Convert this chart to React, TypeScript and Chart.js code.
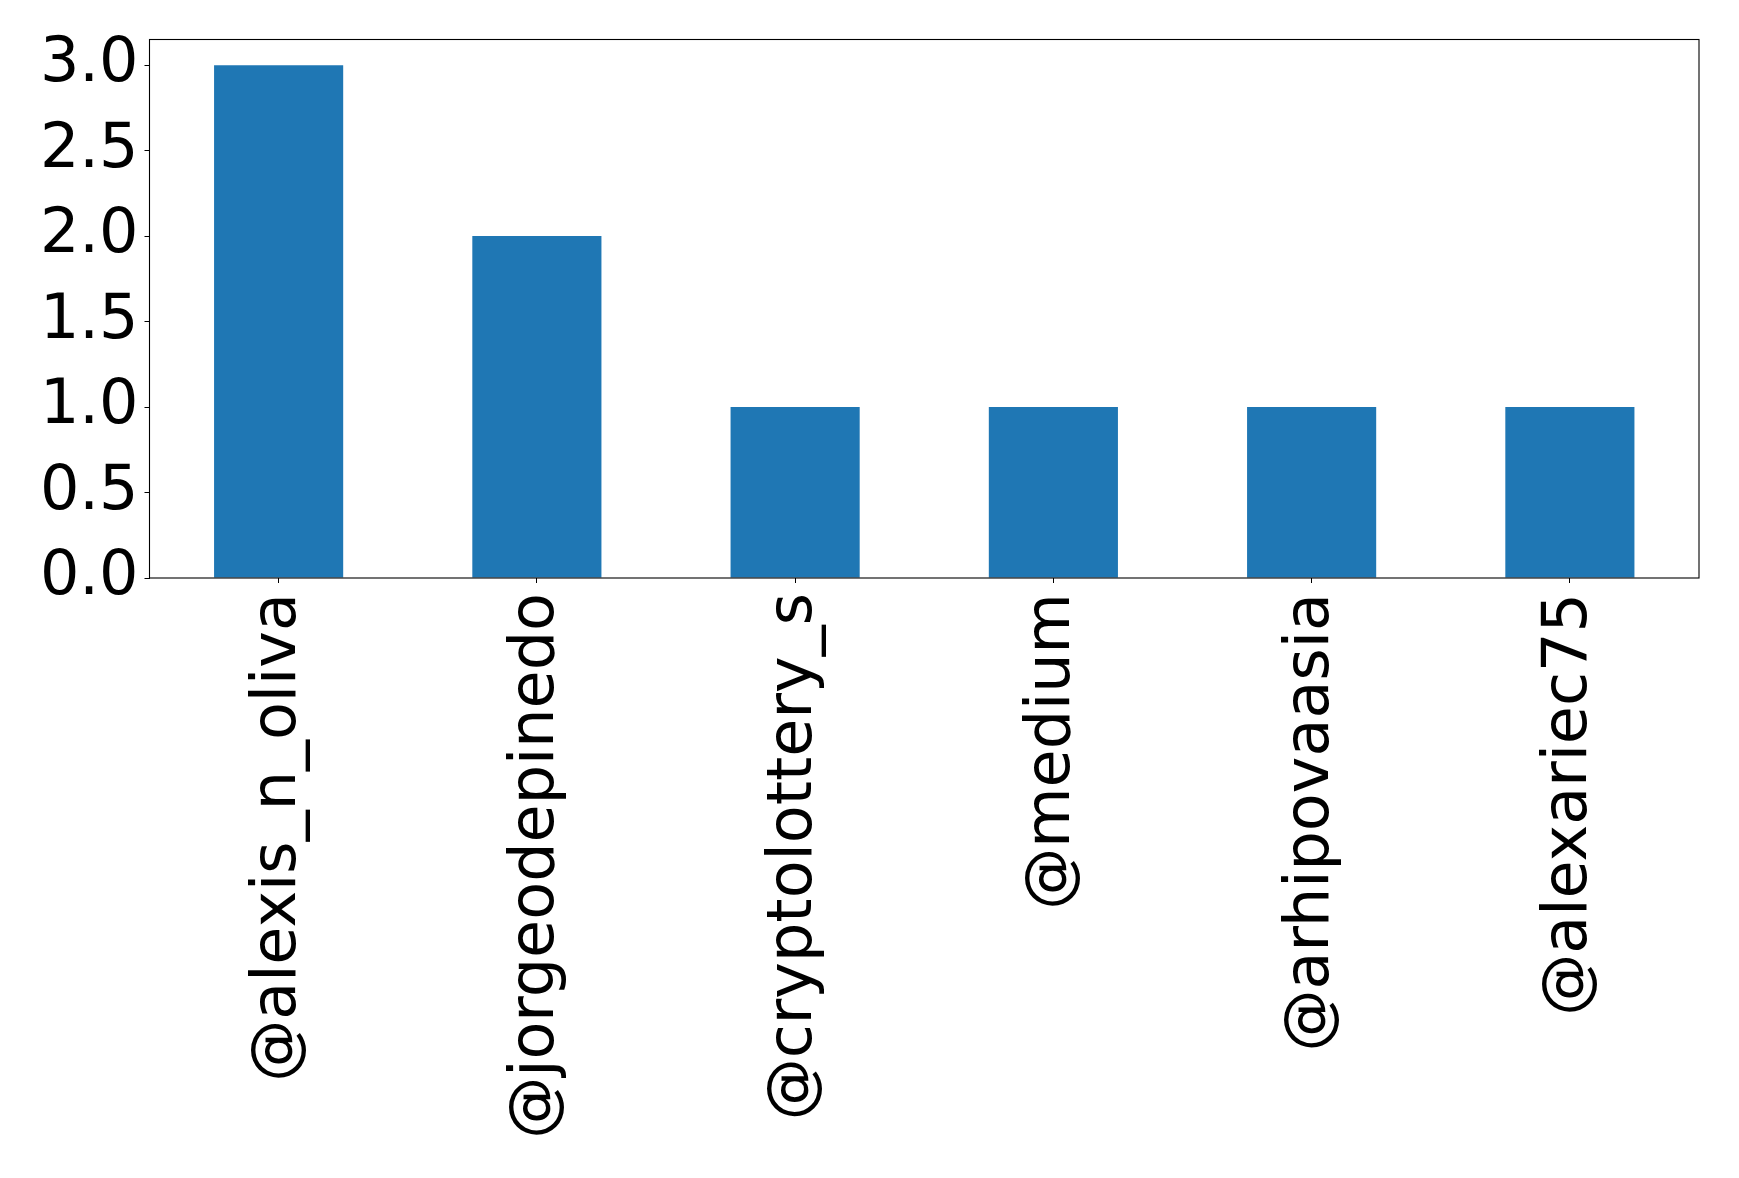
import React, { useEffect, useRef } from "react";
import { Chart, registerables } from "chart.js";

Chart.register(...registerables);

const categories = [
  "@alexis_n_oliva",
  "@jorgeodepinedo",
  "@cryptolottery_s",
  "@medium",
  "@arhipovaasia",
  "@alexariec75",
];
const counts = [3, 2, 1, 1, 1, 1];
const yMax = 3.15;

const boxPlugin = {
  id: "boxPlugin",
  afterDraw(chart: any) {
    const { ctx, chartArea } = chart;
    ctx.save();
    ctx.strokeStyle = "#000";
    ctx.lineWidth = 1.1;
    ctx.strokeRect(chartArea.left, chartArea.top, chartArea.right - chartArea.left, chartArea.bottom - chartArea.top);
    ctx.restore();
  },
};

export default function App() {
  const ref = useRef<HTMLCanvasElement>(null);
  useEffect(() => {
    document.body.style.margin = "0";
    const font = { family: "'DejaVu Sans'", size: 62 };
    const chart = new Chart(ref.current!, {
      type: "bar",
      data: {
        labels: categories,
        datasets: [
          {
            data: counts,
            backgroundColor: "#1f77b4",
            barPercentage: 0.5,
            categoryPercentage: 1,
          },
        ],
      },
      options: {
        animation: false,
        responsive: false,
        layout: { padding: { left: 0, top: 39.5, right: 40, bottom: 0 } },
        plugins: { legend: { display: false }, tooltip: { enabled: false } },
        scales: {
          x: {
            offset: true,
            grid: { drawOnChartArea: false, tickLength: 5, tickColor: "#000", offset: false },
            border: { display: false },
            ticks: {
              color: "#000",
              font,
              minRotation: 90,
              maxRotation: 90,
              autoSkip: false,
              padding: 10,
            },
            afterFit(scale: any) {
              scale.height = 600;
              scale.paddingLeft = 0;
              scale.paddingRight = 0;
            },
          },
          y: {
            min: 0,
            max: yMax,
            grid: { drawOnChartArea: false, tickLength: 5, tickColor: "#000" },
            border: { display: false },
            ticks: {
              color: "#000",
              font,
              stepSize: 0.5,
              includeBounds: false,
              padding: 6,
              callback: (v: any) => Number(v).toFixed(1),
            },
            afterFit(scale: any) {
              scale.width = 149.5;
              scale.paddingTop = 0;
              scale.paddingBottom = 0;
            },
          },
        },
      },
      plugins: [boxPlugin],
    } as any);
    return () => chart.destroy();
  }, []);
  return <canvas ref={ref} width={1739} height={1178} style={{ display: "block" }} />;
}
